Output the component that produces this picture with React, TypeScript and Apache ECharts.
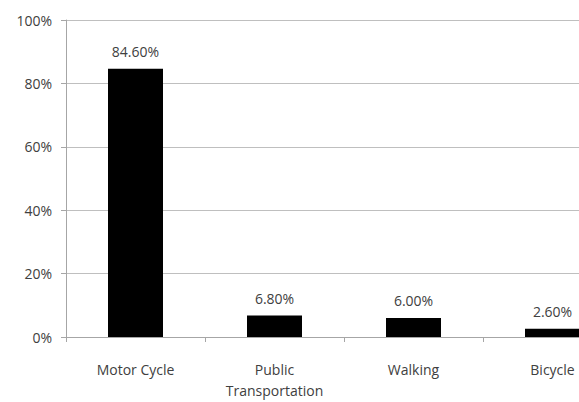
import React, { useEffect, useRef } from "react";
import * as echarts from "echarts";

const categories = ["Motor Cycle", "Public\nTransportation", "Walking", "Bicycle"];
const shares = [84.6, 6.8, 6.0, 2.6];
const yTicks = { min: 0, max: 100, interval: 20 };

export default function App() {
  const ref = useRef<HTMLDivElement>(null);
  useEffect(() => {
    if (!ref.current) return;
    const chart = echarts.init(ref.current, undefined, { renderer: "svg" });
    const font = "'Open Sans', 'Noto Sans', sans-serif";
    chart.setOption({
      animation: false,
      backgroundColor: "#ffffff",
      grid: {
        left: 66,
        top: 20,
        right: -43,
        bottom: 65,
        containLabel: false,
        outerBoundsMode: "none",
      },
      xAxis: {
        type: "category",
        data: categories,
        boundaryGap: true,
        axisLine: { show: true, lineStyle: { color: "#a6a6a6", width: 1 } },
        axisTick: { show: true, alignWithLabel: false, interval: 0, length: 5, lineStyle: { color: "#a6a6a6" } },
        axisLabel: { interval: 0, margin: 22, color: "#404040", fontSize: 14, fontFamily: font, lineHeight: 21 },
        splitLine: { show: false },
      },
      yAxis: {
        type: "value",
        min: yTicks.min,
        max: yTicks.max,
        interval: yTicks.interval,
        axisLine: { show: true, lineStyle: { color: "#a6a6a6", width: 1 } },
        axisTick: { show: true, length: 5, lineStyle: { color: "#a6a6a6" } },
        axisLabel: { formatter: "{value}%", color: "#404040", fontSize: 14, fontFamily: font, margin: 14 },
        splitLine: { show: true, lineStyle: { color: "#bfbfbf", width: 1 } },
      },
      series: [
        {
          type: "bar",
          data: shares,
          barWidth: 55,
          itemStyle: { color: "#000000" },
          label: {
            show: true,
            position: "top",
            distance: 10,
            color: "#404040",
            fontSize: 14,
            fontFamily: font,
            formatter: (p: any) => p.value.toFixed(2) + "%",
          },
        },
      ],
    });
    return () => chart.dispose();
  }, []);
  return (
    <div
      ref={ref}
      style={{ position: "fixed", left: 0, top: 0, width: 579, height: 402, overflow: "hidden" }}
    />
  );
}
